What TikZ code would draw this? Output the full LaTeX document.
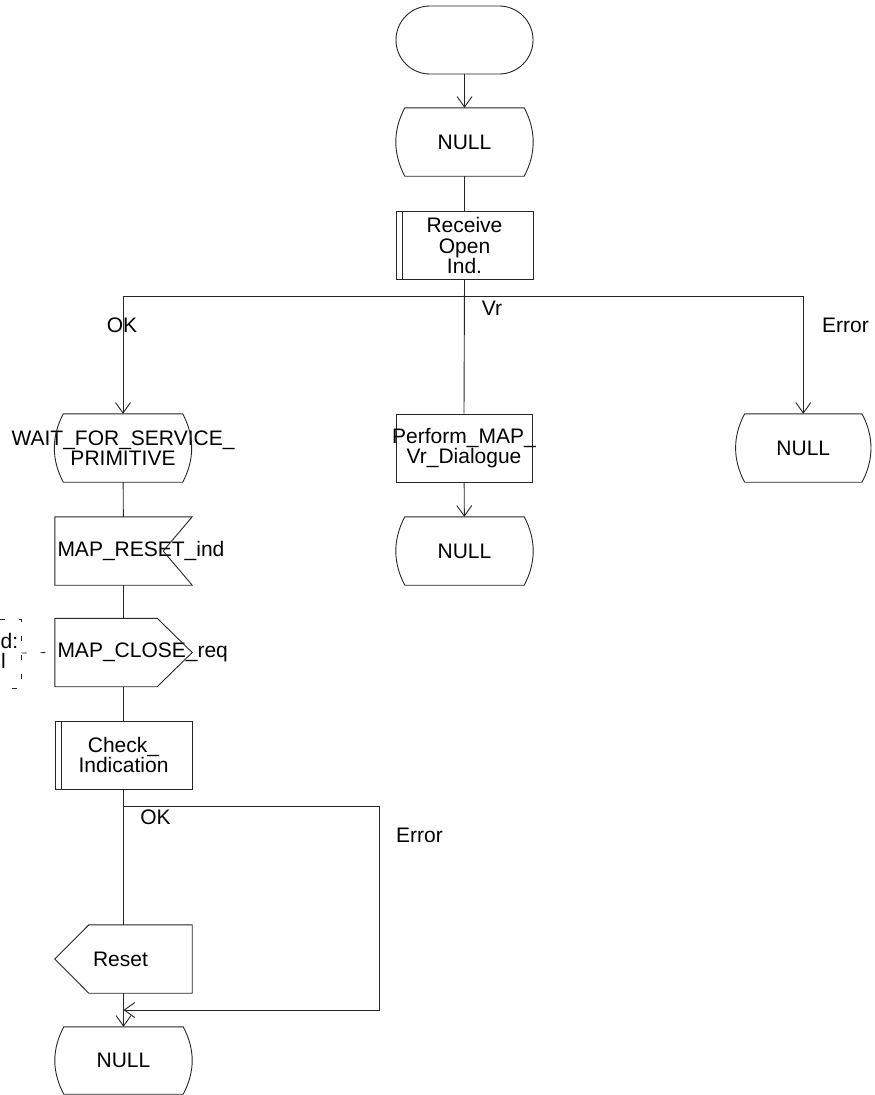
\documentclass[tikz,border=0pt]{standalone}
\usepackage{fontspec}
\setmainfont{Liberation Sans}
\usetikzlibrary{arrows.meta,calc}
\newcommand\sdlState[1]{\draw[sdl] ($(#1.north west)+(9,0)$) -- ($(#1.north east)+(-9,0)$) .. controls ($(#1.north east)+(3,22.7)$) and ($(#1.south east)+(3,-22.7)$) .. ($(#1.south east)+(-9,0)$) -- ($(#1.south west)+(9,0)$) .. controls ($(#1.south west)+(-3,-22.7)$) and ($(#1.north west)+(-3,22.7)$) .. cycle;}
\newcommand\sdlInput[1]{\draw[sdl] (#1.north west) -- (#1.north east) -- ($(#1.east)+(-29,0)$) -- (#1.south east) -- (#1.south west) -- cycle;}
\newcommand\sdlOutRight[1]{\draw[sdl] (#1.north west) -- ($(#1.north east)+(-35,0)$) -- (#1.east) -- ($(#1.south east)+(-35,0)$) -- (#1.south west) -- cycle;}
\newcommand\sdlOutLeft[1]{\draw[sdl] ($(#1.north west)+(34,0)$) -- (#1.north east) -- (#1.south east) -- ($(#1.south west)+(34,0)$) -- (#1.west) -- cycle;}
\begin{document}
\begin{tikzpicture}[x=1pt,y=-1pt,
  sdl/.style={line width=0.9pt, draw=black!85},
  every node/.style={font=\fontsize{21}{20.5}\selectfont},
  box/.style={minimum width=137pt, minimum height=68pt, inner sep=0pt, align=center},
  term/.style={box, sdl, rounded corners=33.9pt},
  taskbox/.style={box, sdl},
  proc/.style={box, sdl, path picture={\draw[sdl] ([xshift=6.8pt]path picture bounding box.north west) -- ([xshift=6.8pt]path picture bounding box.south west);}},
  lbl/.style={inner sep=0pt},
  arr/.style={sdl, -{Straight Barb[length=10.5pt,width=15pt]}},
  cdash/.style={sdl, dash pattern=on 5pt off 14pt}
]
\useasboundingbox (0,0) rectangle (875,1095);

% top part
\node[term] (start) at (464.5,40) {};
\node[box] (null1) at (464.5,142) {NULL};
\node[proc] (recv) at (464.5,245.5) {Receive\\Open\\Ind.};
\coordinate (br) at (464.5,296);

% branches
\node[box] (wait) at (123,448) {\makebox[0pt]{WAIT\_FOR\_SERVICE\_}\\PRIMITIVE};
\node[taskbox, minimum width=136pt] (perform) at (464,448) {\makebox[0pt]{Perform\_MAP\_}\\Vr\_Dialogue};
\node[box] (null2) at (464.5,551) {NULL};
\node[box, minimum width=135pt] (null3) at (803.3,448) {NULL};

% left column
\node[box] (resetin) at (123.5,551) {\makebox[0pt][l]{\hspace*{-66pt}MAP\_RESET\_ind}};
\node[box] (closereq) at (123.5,652.5) {\makebox[0pt][l]{\hspace*{-66pt}MAP\_CLOSE\_req}};
\node[proc] (check) at (123.5,755) {Check\_\\Indication};
\coordinate (br2) at (123.5,806);
\coordinate (e1) at (379,806);
\coordinate (jn) at (123.5,1010);
\node[box] (resetout) at (123.5,959) {\makebox[0pt]{\kern-6pt Reset}};
\node[box, minimum height=67pt] (null4) at (123.5,1060.5) {NULL};

% outlines
\sdlState{null1}
\sdlState{wait}
\sdlState{null2}
\sdlState{null3}
\sdlState{null4}
\sdlInput{resetin}
\sdlOutRight{closereq}
\sdlOutLeft{resetout}

% connectors
\draw[arr] (start) -- (null1);
\draw[sdl] (null1) -- (recv);
\draw[sdl] (recv.south) -- (perform.north);
\draw[arr] (br) -| (wait.north);
\draw[arr] (br) -| (null3.north);
\draw[arr] (perform) -- (null2);
\draw[sdl] (wait) -- (resetin);
\draw[sdl] (resetin) -- (closereq);
\draw[sdl] (closereq) -- (check);
\draw[sdl] (check.south) -- (resetout.north);
\draw[arr] (resetout.south) -- (null4.north);
\draw[arr] (br2) -- (e1) |- (jn);

% branch labels
\node[lbl] (okA) at (122,325) {OK};
\node[lbl] (vr) at (492,308) {Vr};
\node[lbl] (errA) at (845.5,325) {Error};
\node[lbl] (okB) at (155.5,817) {OK};
\node[lbl] (errB) at (419.5,835) {Error};

% comment (cut off at left edge)
\coordinate (cm) at (21.5,653);
\draw[cdash] (0,619) -- (21.5,619) -- (21.5,688) -- (0,688);
\draw[cdash] (cm) -- (closereq.west);
\node[lbl, anchor=west] (cmt1) at (0.5,641) {d:};
\node[lbl, anchor=east] (cmt2) at (6,661) {l};
\end{tikzpicture}
\end{document}
